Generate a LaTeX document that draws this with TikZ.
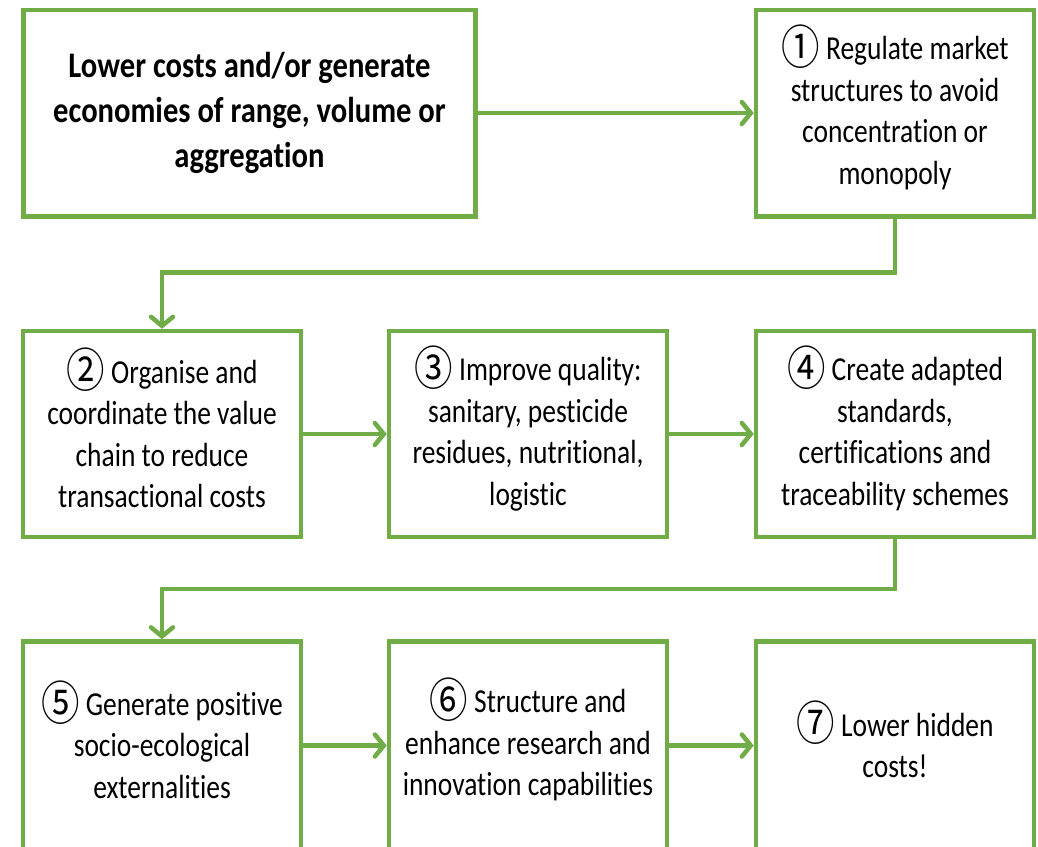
\documentclass[tikz,border=0pt]{standalone}
\usepackage{fontspec}
\setmainfont{Carlito}[FakeStretch=0.82,RawFeature=-liga]
\newfontfamily\boldmain{Carlito}[FakeStretch=0.85,RawFeature=-liga]
\newfontfamily\circfont{Noto Sans CJK SC}[FakeStretch=0.85]
\usetikzlibrary{arrows.meta}
\definecolor{grn}{HTML}{70AD47}
\newcommand{\cn}[1]{\smash{\raisebox{-0.14em}{\scalebox{1.35}[1.4]{\circfont #1}}}}
\begin{document}
\begin{tikzpicture}[x=1pt,y=-1pt,
  box/.style={draw=grn, line width=4.5pt, rectangle, inner sep=0pt,
    minimum width=278pt, minimum height=206pt, align=center,
    font=\fontsize{33.5}{41.5}\selectfont},
  conn/.style={draw=grn, line width=4.5pt,
    -{Straight Barb[length=9pt,width=22pt,line cap=round]}}]
\clip (0,0) rectangle (1038,846);
\fill[white] (0,0) rectangle (1038,846);
\node[box, minimum width=452pt, minimum height=206.5pt,
  font=\fontsize{36}{45}\boldmain\bfseries] (a) at (249.5,113)
  {Lower costs and/or generate\\economies of range, volume or\\aggregation};
\node[box, minimum height=206.5pt] (b1) at (895,113)
  {\cn{①} Regulate market\\structures to avoid\\concentration or\\monopoly};
\node[box] (b2) at (162,434)
  {\cn{②} Organise and\\coordinate the value\\chain to reduce\\transactional costs};
\node[box] (b3) at (528,434)
  {\cn{③} Improve quality:\\sanitary, pesticide\\residues, nutritional,\\logistic};
\node[box] (b4) at (895,434)
  {\cn{④} Create adapted\\standards,\\certifications and\\traceability schemes};
\node[box, minimum height=208pt] (b5) at (162,745.5)
  {\cn{⑤} Generate positive\\socio-ecological\\externalities};
\node[box, minimum height=208pt] (b6) at (528,745.5)
  {\cn{⑥} Structure and\\enhance research and\\innovation capabilities};
\node[box, minimum height=208pt] (b7) at (895,745.5)
  {\cn{⑦} Lower hidden\\costs!};
\coordinate (j1) at (895,272.5);
\coordinate (j2) at (895,589);
\draw[conn] (a.east) -- (b1.west);
\draw[conn] (b1.south) -- (j1) -| (b2.north);
\draw[conn] (b2.east) -- (b3.west);
\draw[conn] (b3.east) -- (b4.west);
\draw[conn] (b4.south) -- (j2) -| (b5.north);
\draw[conn] (b5.east) -- (b6.west);
\draw[conn] (b6.east) -- (b7.west);
\end{tikzpicture}
\end{document}
